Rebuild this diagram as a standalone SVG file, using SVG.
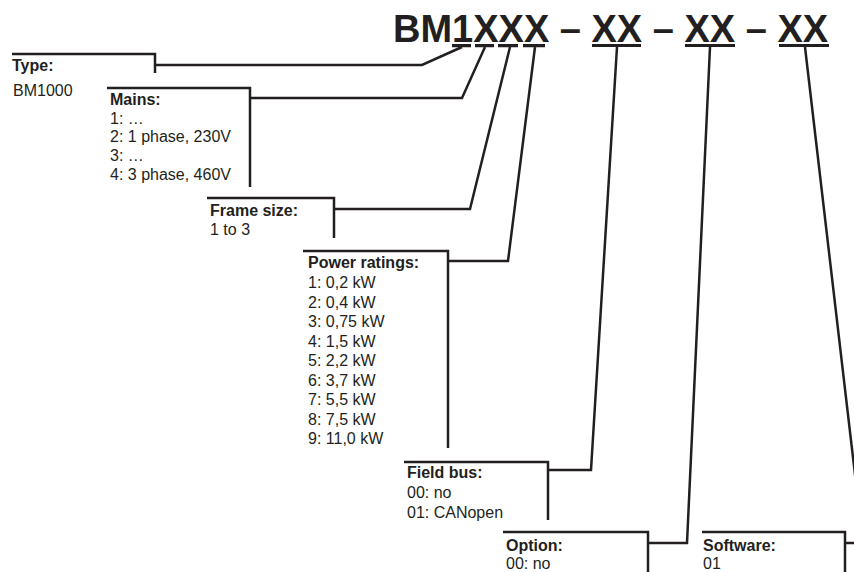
<svg xmlns="http://www.w3.org/2000/svg" width="854" height="572" viewBox="0 0 854 572">
<style>
  .ln { fill: none; stroke: #231f20; stroke-width: 2.5; stroke-linejoin: miter; }
  .ul { fill: none; stroke: #231f20; stroke-width: 3.2; }
  .title { font-family: "Liberation Sans", Arial, sans-serif; font-weight: bold; font-size: 38px; fill: #231f20; }
  .lbl { font-family: "Liberation Sans", Arial, sans-serif; font-weight: bold; font-size: 16px; fill: #231f20; }
  .txt { font-family: "Liberation Sans", Arial, sans-serif; font-size: 16px; fill: #231f20; }
</style>
<rect width="854" height="572" fill="#ffffff"/>
<g id="title">
  <text class="title" x="393" y="42">BM1XXX – XX – XX – XX</text>
  <path class="ul" d="M452,45.7 H471 M475,45.7 H494 M498,45.7 H518 M523,45.7 H545 M592,45.5 H641 M685,45.5 H735 M779,45.5 H829"/>
</g>
<g id="connectors">
  <polyline class="ln" points="155,65 422,65 462,47"/>
  <polyline class="ln" points="250,98 462,98 485,47"/>
  <polyline class="ln" points="334,209 470,209 510,47"/>
  <polyline class="ln" points="448,261 508,261 535,47"/>
  <polyline class="ln" points="548,470 591,470 617,47"/>
  <polyline class="ln" points="648,543 687,543 710,47"/>
  <polyline class="ln" points="845,543 863,543 805,47"/>
</g>
<g id="type">
  <path class="ln" d="M12,54 H155 V73"/>
  <text class="lbl" x="12" y="71">Type:</text>
  <text class="txt" x="13" y="96">BM1000</text>
</g>
<g id="mains">
  <path class="ln" d="M107,88 H250 V187"/>
  <text class="lbl" x="110" y="105">Mains:</text>
  <text class="txt" x="110" y="124">1: …</text>
  <text class="txt" x="110" y="142">2: 1 phase, 230V</text>
  <text class="txt" x="110" y="161">3: …</text>
  <text class="txt" x="110" y="180">4: 3 phase, 460V</text>
</g>
<g id="frame-size">
  <path class="ln" d="M207,198 H334 V238"/>
  <text class="lbl" x="210" y="216">Frame size:</text>
  <text class="txt" x="210" y="235">1 to 3</text>
</g>
<g id="power-ratings">
  <path class="ln" d="M303,251 H448 V448"/>
  <text class="lbl" x="308" y="268">Power ratings:</text>
  <text class="txt" x="308" y="288">1: 0,2 kW</text>
  <text class="txt" x="308" y="307.5">2: 0,4 kW</text>
  <text class="txt" x="308" y="327">3: 0,75 kW</text>
  <text class="txt" x="308" y="346.5">4: 1,5 kW</text>
  <text class="txt" x="308" y="366">5: 2,2 kW</text>
  <text class="txt" x="308" y="385.5">6: 3,7 kW</text>
  <text class="txt" x="308" y="405">7: 5,5 kW</text>
  <text class="txt" x="308" y="424.5">8: 7,5 kW</text>
  <text class="txt" x="308" y="444">9: 11,0 kW</text>
</g>
<g id="field-bus">
  <path class="ln" d="M404,462 H548 V520"/>
  <text class="lbl" x="407" y="478">Field bus:</text>
  <text class="txt" x="407" y="498">00: no</text>
  <text class="txt" x="407" y="518">01: CANopen</text>
</g>
<g id="option">
  <path class="ln" d="M503,532 H648 V574"/>
  <text class="lbl" x="506" y="551">Option:</text>
  <text class="txt" x="506" y="569">00: no</text>
</g>
<g id="software">
  <path class="ln" d="M702,532 H845 V574"/>
  <text class="lbl" x="703" y="551">Software:</text>
  <text class="txt" x="703" y="569">01</text>
</g>
</svg>
